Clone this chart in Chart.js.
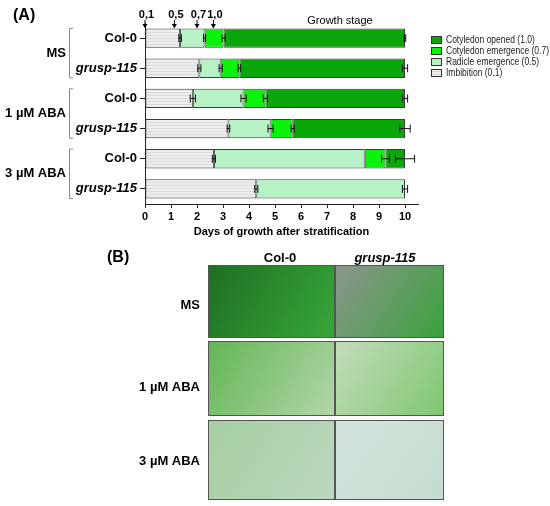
<!DOCTYPE html>
<html>
<head>
<meta charset="utf-8">
<script src="https://cdn.jsdelivr.net/npm/chart.js@4.4.1/dist/chart.umd.min.js"></script>
<style>
  body { margin: 0; background: #fff; }
  canvas { display: block; }
</style>
</head>
<body>
<canvas id="chart" width="550" height="506"></canvas>
<script>
// genotypes per row, grouped by medium
const categories = ['Col-0', 'grusp-115', 'Col-0', 'grusp-115', 'Col-0', 'grusp-115'];
const groups = ['MS', '1 \u00b5M ABA', '3 \u00b5M ABA'];
const stageLabels = ['Imbibition (0.1)', 'Radicle emergence (0.5)', 'Cotyledon emergence (0.7)', 'Cotyledon opened (1.0)'];
const stageColors = ['#ebebeb', '#b6f2c6', '#0cf20c', '#0aa60a'];

// day at which each stage ends
const imbibitionEnd = [1.35, 2.09, 1.84, 3.21, 2.65, 4.28];
const radicleEnd    = [2.29, 2.91, 3.79, 4.83, 8.45, 10.0];
const emergenceEnd  = [3.02, 3.63, 4.63, 5.68, 9.25, null];
const openedEnd     = [10.0, 10.0, 10.0, 10.0, 10.0, null];

// error on each stage end
const imbibitionErr = [0.05, 0.06, 0.1, 0.05, 0.06, 0.06];
const radicleErr    = [0.04, 0.06, 0.1, 0.1, 0.0, 0.1];
const emergenceErr  = [0.06, 0.05, 0.08, 0.06, 0.15, null];
const openedErr     = [0.03, 0.1, 0.1, 0.2, 0.37, null];

// x ticks and growth stage markers at top
const xTicks = [0, 1, 2, 3, 4, 5, 6, 7, 8, 9, 10];
const stageMarkLabels = ['0,1', '0,5', '0,7', '1,0'];
const stageMarkDays = [0.0, 1.13, 2.0, 2.63];

const stageEnds = [imbibitionEnd, radicleEnd, emergenceEnd, openedEnd];
const stageErrs = [imbibitionErr, radicleErr, emergenceErr, openedErr];

// light hatched fill for imbibition
function hatch() {
  const c = document.createElement('canvas');
  c.width = 4; c.height = 3;
  const g = c.getContext('2d');
  g.fillStyle = '#ededed';
  g.fillRect(0, 0, 4, 3);
  g.fillStyle = '#dadada';
  g.fillRect(0, 2, 4, 1);
  return g.createPattern(c, 'repeat');
}

const datasets = stageLabels.map((label, s) => ({
  label,
  data: stageEnds[s].map((end, i) => {
    if (end == null) return null;
    const prev = s === 0 ? 0 : stageEnds[s - 1][i];
    return end - prev;
  }),
  backgroundColor: s === 0 ? hatch() : stageColors[s],
  borderColor: '#3c3c3c',
  borderWidth: 1,
  borderSkipped: false,
  barPercentage: 0.64,
  categoryPercentage: 1
}));

const FONT = '"Liberation Sans", Arial, sans-serif';

const extras = {
  id: 'extras',
  afterDatasetsDraw(chart) {
    const ctx = chart.ctx;
    const x = chart.scales.x, y = chart.scales.y;
    ctx.save();
    // error bars
    ctx.strokeStyle = '#111';
    ctx.lineWidth = 1;
    stageEnds.forEach((ends, s) => {
      ends.forEach((end, i) => {
        const err = stageErrs[s][i];
        if (end == null || !err) return;
        const yc = y.getPixelForValue(i);
        const x1 = x.getPixelForValue(end - err), x2 = x.getPixelForValue(end + err);
        ctx.beginPath();
        ctx.moveTo(x1, yc); ctx.lineTo(x2, yc);
        ctx.moveTo(x1, yc - 4); ctx.lineTo(x1, yc + 4);
        ctx.moveTo(x2, yc - 4); ctx.lineTo(x2, yc + 4);
        ctx.stroke();
      });
    });

    // group brackets and labels
    const meta = chart.getDatasetMeta(0);
    groups.forEach((g, k) => {
      const a = meta.data[2 * k], b = meta.data[2 * k + 1];
      const top = a.y - a.height / 2, bot = b.y + b.height / 2;
      ctx.strokeStyle = '#8a8a8a';
      ctx.beginPath();
      ctx.moveTo(73, top); ctx.lineTo(69.5, top); ctx.lineTo(69.5, bot); ctx.lineTo(73, bot);
      ctx.stroke();
      ctx.fillStyle = '#000';
      ctx.font = 'bold 13px ' + FONT;
      ctx.textAlign = 'right';
      ctx.textBaseline = 'middle';
      ctx.fillText(g, 66, (top + bot) / 2);
    });

    // stage markers with arrows
    ctx.fillStyle = '#000';
    ctx.strokeStyle = '#000';
    ctx.font = 'bold 11px ' + FONT;
    ctx.textAlign = 'center';
    ctx.textBaseline = 'middle';
    stageMarkLabels.forEach((t, k) => {
      const px = x.getPixelForValue(stageMarkDays[k]);
      ctx.fillText(t, px + 1.5, 15);
      ctx.beginPath();
      ctx.moveTo(px, 20); ctx.lineTo(px, 27);
      ctx.stroke();
      ctx.beginPath();
      ctx.moveTo(px - 2.5, 24); ctx.lineTo(px + 2.5, 24); ctx.lineTo(px, 28.5);
      ctx.closePath(); ctx.fill();
    });
    ctx.font = '11px ' + FONT;
    ctx.fillText('Growth stage', 340, 21);

    // panel letters
    ctx.font = 'bold 16px ' + FONT;
    ctx.textAlign = 'left';
    ctx.fillText('(A)', 13, 16);
    ctx.fillText('(B)', 107, 258);

    // legend (top entry is the last stage), text slightly condensed
    ctx.font = '10px ' + FONT;
    chart.data.datasets.slice().reverse().forEach((ds, k) => {
      const ly = 40 + k * 11;
      ctx.fillStyle = ds.backgroundColor;
      ctx.fillRect(431, ly - 3.5, 11, 7);
      ctx.strokeStyle = '#333';
      ctx.strokeRect(431.5, ly - 3.5, 10, 7);
      ctx.fillStyle = '#222';
      ctx.save();
      ctx.translate(446, ly + 0.5);
      ctx.scale(0.85, 1);
      ctx.fillText(ds.label, 0, 0);
      ctx.restore();
    });

    // panel B: seedling photo tiles (flat stand-ins)
    const cols = [[208, 335], [335, 444]];
    const rows = [[265, 338], [341, 416], [420, 500]];
    const tiles = [
      [['#1f6e22', '#38a83a'], ['#8c968e', '#3aa23c']],
      [['#63b556', '#b2d6a8'], ['#c4dcbc', '#7ec670']],
      [['#a6cea0', '#bcd8c0'], ['#d3e4dc', '#c6dccf']]
    ];
    rows.forEach((r, ri) => {
      cols.forEach((c, ci) => {
        const grad = ctx.createLinearGradient(c[0], r[0], c[1], r[1]);
        grad.addColorStop(0, tiles[ri][ci][0]);
        grad.addColorStop(1, tiles[ri][ci][1]);
        ctx.fillStyle = grad;
        ctx.fillRect(c[0], r[0], c[1] - c[0], r[1] - r[0]);
        ctx.strokeStyle = '#555';
        ctx.strokeRect(c[0] + 0.5, r[0] + 0.5, c[1] - c[0] - 1, r[1] - r[0] - 1);
      });
    });
    ctx.fillStyle = '#000';
    ctx.font = 'bold 13px ' + FONT;
    ctx.textAlign = 'center';
    ctx.fillText('Col-0', 280, 258);
    ctx.font = 'italic bold 13px ' + FONT;
    ctx.fillText('grusp-115', 385, 258);
    ctx.font = 'bold 13px ' + FONT;
    ctx.textAlign = 'right';
    ctx.fillText('MS', 200, 305);
    ctx.fillText('1 \u00b5M ABA', 200, 387);
    ctx.fillText('3 \u00b5M ABA', 200, 461);
    ctx.restore();
  }
};

new Chart(document.getElementById('chart'), {
  type: 'bar',
  data: { labels: categories, datasets },
  options: {
    indexAxis: 'y',
    responsive: false,
    animation: false,
    layout: { padding: { left: 70, right: 132, top: 23, bottom: 262 } },
    plugins: { legend: { display: false }, tooltip: { enabled: false } },
    scales: {
      x: {
        stacked: true,
        min: 0,
        max: 10.5,
        afterFit: s => { s.height = 40; },
        afterBuildTicks: s => { s.ticks = xTicks.map(v => ({ value: v })); },
        grid: { drawOnChartArea: false, tickLength: 4, color: '#222' },
        border: { color: '#222' },
        ticks: { color: '#000', padding: 2, font: { family: FONT, size: 11, weight: 'bold' } },
        title: {
          display: true,
          text: 'Days of growth after stratification',
          color: '#000',
          font: { family: FONT, size: 11, weight: 'bold' },
          padding: { top: 2, bottom: 5 }
        }
      },
      y: {
        stacked: true,
        afterFit: s => { s.width = 75; },
        grid: { drawOnChartArea: false, offset: false, tickLength: 5, color: '#222' },
        border: { color: '#222' },
        ticks: {
          color: '#000',
          padding: 3,
          font: ctx => ({ family: FONT, size: 13, weight: 'bold', style: ctx.index % 2 ? 'italic' : 'normal' })
        }
      }
    }
  },
  plugins: [extras]
});
</script>
</body>
</html>
